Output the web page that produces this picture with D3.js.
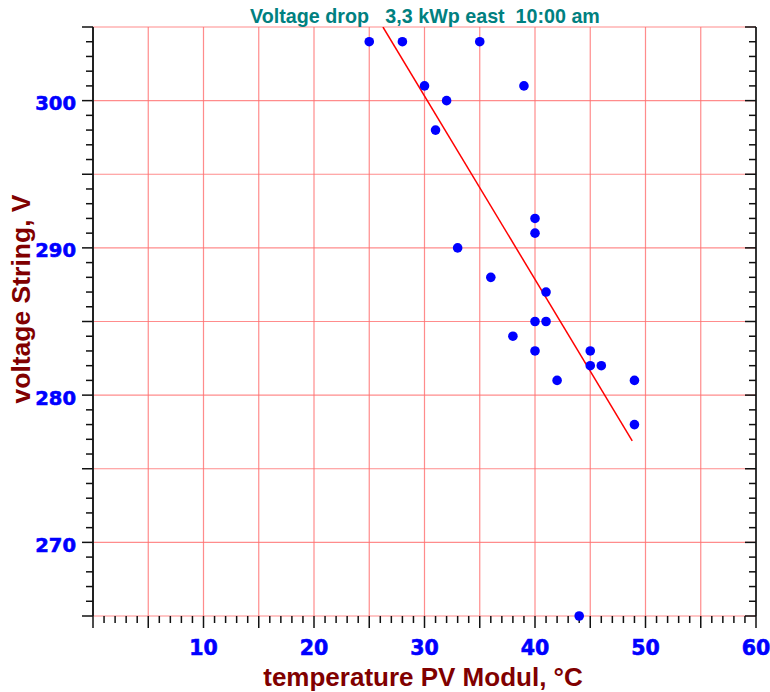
<!DOCTYPE html>
<html>
<head>
<meta charset="utf-8">
<script src="https://cdn.jsdelivr.net/npm/d3@7"></script>
<style>
  html, body { margin: 0; padding: 0; background: #fff; }
  svg { display: block; }
</style>
</head>
<body>
<script>
// ---- data ----
const title = "Voltage drop   3,3 kWp east  10:00 am";
const xLabel = "temperature PV Modul, \u00B0C";
const yLabel = "voltage String, V";
const tempC   = [25, 28, 35, 30, 39, 32, 31, 40, 40, 33, 36, 41, 40, 41, 38, 40, 45, 45, 46, 42, 49, 49, 44];
const voltage = [304, 304, 304, 301, 301, 300, 298, 292, 291, 290, 288, 287, 285, 285, 284, 283, 283, 282, 282, 281, 281, 278, 265];
const trendTemp = [26.24, 48.8];
const trendVolt = [305, 276.9];
const xTickLabels = [10, 20, 30, 40, 50, 60];
const yTickLabels = [270, 280, 290, 300];
const xDomain = [0, 60];
const yDomain = [265, 305];

// ---- layout ----
const W = 770, H = 692;
const L = 93, R = 756, T = 27, B = 616;

const svg = d3.select("body").append("svg").attr("width", W).attr("height", H);

const x = d3.scaleLinear().domain(xDomain).range([L, R]);
const y = d3.scaleLinear().domain(yDomain).range([B, T]);

// grid
const gridColor = "#ff7070";
const xGrid = d3.range(xDomain[0], xDomain[1] + 1, 5);
const yGrid = d3.range(yDomain[0], yDomain[1] + 1, 5);
svg.append("g").selectAll("line").data(xGrid).join("line")
  .attr("x1", d => x(d)).attr("x2", d => x(d))
  .attr("y1", T).attr("y2", B)
  .attr("stroke", gridColor).attr("stroke-width", 1.2).attr("opacity", 0.8);
svg.append("g").selectAll("line").data(yGrid).join("line")
  .attr("x1", L).attr("x2", R)
  .attr("y1", d => y(d)).attr("y2", d => y(d))
  .attr("stroke", gridColor).attr("stroke-width", 1.2).attr("opacity", 0.8);

// axis lines left/right
svg.append("line").attr("x1", L).attr("x2", L).attr("y1", T).attr("y2", B)
  .attr("stroke", "#222").attr("stroke-width", 2);
svg.append("line").attr("x1", R).attr("x2", R).attr("y1", T).attr("y2", B)
  .attr("stroke", "#333").attr("stroke-width", 2);

// y ticks (left outward, right inward)
const yTicks = d3.range(yDomain[0], yDomain[1] + 1, 1);
const isMajY = d => d % 5 === 0;
svg.append("g").selectAll("line").data(yTicks).join("line")
  .attr("x1", d => L - (isMajY(d) ? 11 : 7)).attr("x2", L)
  .attr("y1", d => y(d)).attr("y2", d => y(d))
  .attr("stroke", "#111").attr("stroke-width", 1.5);
svg.append("g").selectAll("line").data(yTicks).join("line")
  .attr("x1", R).attr("x2", d => R - (isMajY(d) ? 11 : 7))
  .attr("y1", d => y(d)).attr("y2", d => y(d))
  .attr("stroke", "#111").attr("stroke-width", 1.5);

// x ticks (bottom downward)
const xTicks = d3.range(xDomain[0], xDomain[1] + 1, 1);
const isMajX = d => d % 5 === 0;
svg.append("g").selectAll("line").data(xTicks).join("line")
  .attr("x1", d => x(d)).attr("x2", d => x(d))
  .attr("y1", B).attr("y2", d => B + (isMajX(d) ? 12 : 7))
  .attr("stroke", "#111").attr("stroke-width", 1.5);

// tick labels
const tickFont = "'DejaVu Sans', Verdana, sans-serif";
svg.append("g").selectAll("text").data(xTickLabels).join("text")
  .attr("x", d => x(d)).attr("y", 655)
  .attr("text-anchor", "middle")
  .attr("font-family", tickFont).attr("font-weight", "bold").attr("font-size", 20.5)
  .attr("fill", "#0000ff").attr("stroke", "#0000ff").attr("stroke-width", 0.6)
  .text(d => d);
svg.append("g").selectAll("text").data(yTickLabels).join("text")
  .attr("x", 76).attr("y", d => y(d) + 9.5)
  .attr("text-anchor", "end")
  .attr("font-family", tickFont).attr("font-weight", "bold").attr("font-size", 19.5)
  .attr("fill", "#0000ff").attr("stroke", "#0000ff").attr("stroke-width", 0.6)
  .text(d => d);

// clip
svg.append("clipPath").attr("id", "plot").append("rect")
  .attr("x", L).attr("y", T).attr("width", R - L).attr("height", B - T);

// trend line
const trend = trendTemp.map((t, i) => [t, trendVolt[i]]);
svg.append("path").datum(trend)
  .attr("clip-path", "url(#plot)")
  .attr("d", d3.line().x(d => x(d[0])).y(d => y(d[1])))
  .attr("fill", "none").attr("stroke", "#ff0000").attr("stroke-width", 1.5);

// points
const pts = tempC.map((t, i) => [t, voltage[i]]);
svg.append("g").selectAll("circle").data(pts).join("circle")
  .attr("cx", d => x(d[0])).attr("cy", d => y(d[1])).attr("r", 4.8)
  .attr("fill", "#0000ff");

// title & labels
const labFont = "'Liberation Sans', Arial, sans-serif";
svg.append("text").attr("x", 425).attr("y", 23)
  .attr("text-anchor", "middle").style("white-space", "pre")
  .attr("font-family", labFont).attr("font-weight", "bold").attr("font-size", 19.7)
  .attr("fill", "#008080").text(title);
svg.append("text").attr("x", 423).attr("y", 686)
  .attr("text-anchor", "middle")
  .attr("font-family", labFont).attr("font-weight", "bold").attr("font-size", 26)
  .attr("fill", "#800000").text(xLabel);
svg.append("text")
  .attr("transform", "translate(30,299) rotate(-90)")
  .attr("text-anchor", "middle")
  .attr("font-family", labFont).attr("font-weight", "bold").attr("font-size", 26.5)
  .attr("fill", "#800000").text(yLabel);
</script>
</body>
</html>
